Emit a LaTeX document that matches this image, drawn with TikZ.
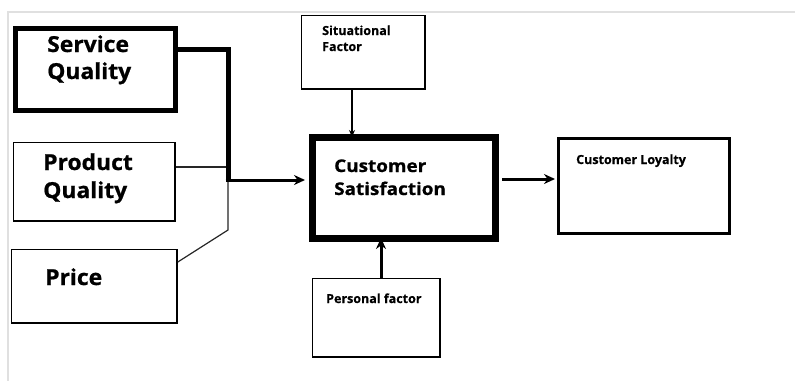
\documentclass[tikz,border=0pt]{standalone}
\usepackage{fontspec}
\setmainfont{Open Sans}
\usetikzlibrary{arrows.meta}
\begin{document}
\begin{tikzpicture}[x=1pt,y=-1pt,
  box/.style={draw=black,fill=white,anchor=north west,inner sep=0pt,line width=1.5pt},
  heavybox/.style={box,line width=5pt},
  bigbox/.style={box,line width=7pt},
  midbox/.style={box,line width=3pt},
  lbl/.style={anchor=base west,inner sep=0pt,font=\bfseries},
  bigtxt/.style={lbl,font=\fontsize{22}{22}\selectfont\bfseries\addfontfeatures{FakeStretch=1.04,FakeBold=0.8}},
  medtxt/.style={lbl,font=\fontsize{17.5}{17.5}\selectfont\bfseries\addfontfeatures{FakeStretch=1.08,FakeBold=0.8}},
  smalltxt/.style={lbl,font=\fontsize{12.5}{12.5}\selectfont\bfseries\addfontfeatures{FakeBold=0.4}},
  thinline/.style={line width=1.2pt,draw=black!85},
  thickline/.style={line width=5pt,line join=miter},
  arr/.style={-{Stealth[length=11pt,width=10pt]},line width=3pt}
]
\useasboundingbox (0,0) rectangle (795,381);
\fill[white] (0,0) rectangle (795,381);
% faint frame
\draw[black!12,line width=1.2pt] (8,381) -- (8,12) -- (795,12);

% boxes
\node[heavybox,minimum width=160pt,minimum height=82pt] (sq) at (12.5,25.5) {};
\node[box,minimum width=161.6pt,minimum height=78.6pt] (pq) at (12.7,141.7) {};
\node[box,minimum width=165.6pt,minimum height=73.6pt] (pr) at (10.7,248.7) {};
\node[box,minimum width=123.5pt,minimum height=73.5pt] (sit) at (300.7,14.7) {};
\node[bigbox,minimum width=183pt,minimum height=101pt] (cs) at (308.5,133.5) {};
\node[box,minimum width=127.6pt,minimum height=78.6pt] (pers) at (311.7,277.7) {};
\node[midbox,minimum width=171pt,minimum height=95pt] (cl) at (556.5,136.5) {};

% texts
\node[bigtxt] (sqa) at (47,52) {Service};
\node[bigtxt] (sqb) at (47,79) {Quality};
\node[bigtxt] (pqa) at (43,170) {Product};
\node[bigtxt] (pqb) at (43,198) {Quality};
\node[bigtxt] (pra) at (45,285) {Price};
\node[smalltxt] (sita) at (322,35) {Situational};
\node[smalltxt] (sitb) at (322,51) {Factor};
\node[medtxt] (csa) at (334,172) {Customer};
\node[medtxt] (csb) at (334,195) {Satisfaction};
\node[smalltxt] (pera) at (326,303) {Personal factor};
\node[smalltxt] (cla) at (576,164) {Customer Loyalty};

% connector points
\coordinate (jtop) at (228,49);
\coordinate (junc) at (228,180);
\coordinate (jbot) at (228,230);
\coordinate (pqy) at (0,167);
\coordinate (pry) at (0,262);
\coordinate (sitx) at (352,0);
\coordinate (perx) at (381,0);
\coordinate (cly) at (0,179);

% connectors
\draw[thinline] (pq.east |- pqy) -- (jtop |- pqy);
\draw[thinline] (junc) -- (jbot) -- (pr.east |- pry);
\draw[thickline] (sq.east |- jtop) -- (jtop) -- ([yshift=1.5pt]junc);
\draw[arr] ([xshift=-2.5pt]junc) -- ([xshift=-3.5pt]cs.west |- junc);
\draw[-{Stealth[length=7pt,width=6pt]},line width=1.3pt] (sit.south -| sitx) -- ([yshift=-3.5pt]cs.north -| sitx);
\draw[arr] (pers.north -| perx) -- ([yshift=3.5pt]cs.south -| perx);
\draw[arr] ([xshift=3.5pt]cs.east |- cly) -- ([xshift=-1.5pt]cl.west |- cly);
\end{tikzpicture}
\end{document}
